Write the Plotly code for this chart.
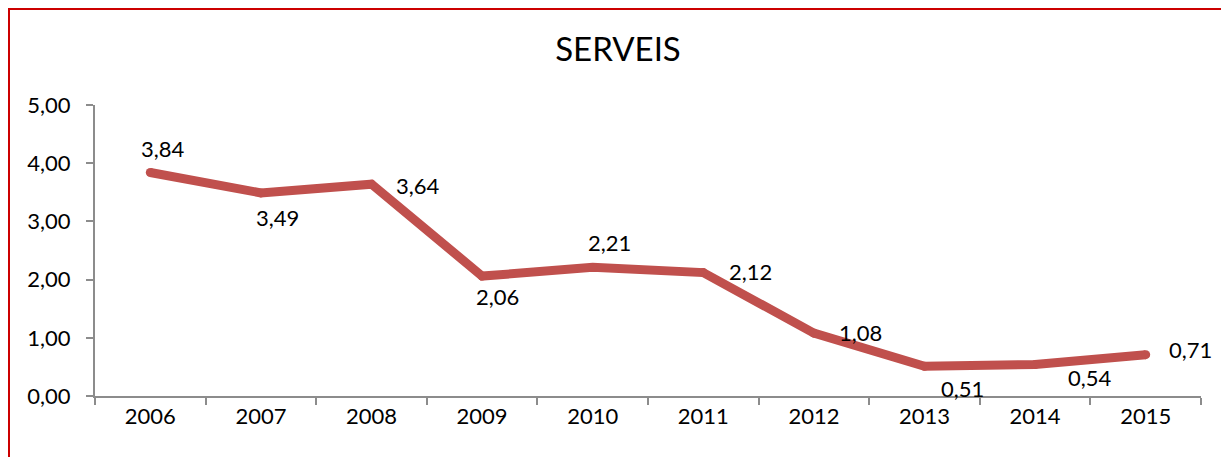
import plotly.graph_objs as go

# data
years = ['2006', '2007', '2008', '2009', '2010', '2011', '2012', '2013', '2014', '2015']
values = [3.84, 3.49, 3.64, 2.06, 2.21, 2.12, 1.08, 0.51, 0.54, 0.71]
labels = ['3,84', '3,49', '3,64', '2,06', '2,21', '2,12', '1,08', '0,51', '0,54', '0,71']

# label offsets in pixels (dx, dy), Excel-like placement
label_offsets = [(13, 24), (17, -25), (46, -1), (15, -20), (17, 25),
                 (47, 1), (47, 1), (38, -22), (55, -13), (45, 5)]

line_color = '#C0504D'
axis_color = '#8C8C8C'
font_family = 'Lato'

fig = go.Figure()
fig.add_trace(go.Scatter(
    x=years, y=values, mode='lines+markers',
    line=dict(color=line_color, width=9),
    marker=dict(color=line_color, size=9),
    hoverinfo='skip', showlegend=False
))

for i, (v, lab, (dx, dy)) in enumerate(zip(values, labels, label_offsets)):
    fig.add_annotation(
        x=i, y=v, xref='x', yref='y', text=lab, showarrow=False,
        xshift=dx, yshift=dy,
        font=dict(size=22, color='black', family=font_family)
    )

# plot area: x 87..1193, y 97..388 inside the figure (page adds 8px margin)
fig.update_layout(
    width=1229, height=457,
    margin=dict(l=87, r=36, t=97, b=69),
    paper_bgcolor='white', plot_bgcolor='white',
    separators=',.',
    font=dict(family=font_family, size=22, color='black'),
    title=dict(text='SERVEIS', x=(618 - 8) / 1229, xref='container', xanchor='center',
               y=1 - 41 / 457, yref='container', yanchor='middle',
               font=dict(size=33, color='black', family=font_family)),
    xaxis=dict(type='category', range=[-0.5, 9.5],
               showline=True, linecolor=axis_color, linewidth=2,
               ticks='outside', tickson='boundaries', ticklen=7, tickwidth=2,
               tickcolor=axis_color, showgrid=False, zeroline=False,
               tickfont=dict(size=22, color='black')),
    yaxis=dict(range=[0, 5], dtick=1, tickformat='.2f',
               showline=True, linecolor=axis_color, linewidth=2,
               ticks='outside', ticklen=7, tickwidth=2, tickcolor=axis_color,
               showgrid=False, zeroline=False, ticklabelstandoff=11,
               tickfont=dict(size=22, color='black')),
    shapes=[dict(type='rect', xref='paper', yref='paper',
                 x0=(1 - 87) / 1106, x1=1.1,
                 y0=-0.4, y1=(388 - 1) / 291,
                 line=dict(color='#CC0000', width=2), layer='below')]
)

fig.write_html('out.html')
